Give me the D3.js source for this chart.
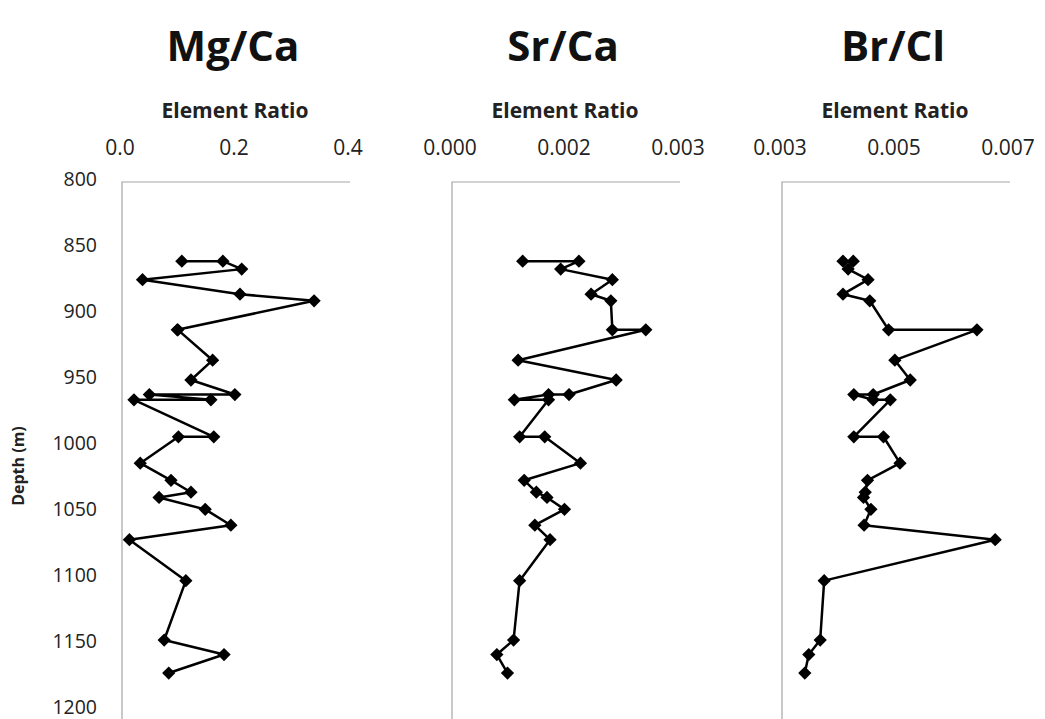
<!DOCTYPE html>
<html>
<head>
<meta charset="utf-8">
<script src="https://cdn.jsdelivr.net/npm/d3@7"></script>
<style>
	body { margin: 0; background: #fff; }
	svg { display: block; font-family: "Open Sans", "Liberation Sans", sans-serif; }
</style>
</head>
<body>
<script>

// sample depths (m), in drilling order
const depths = [860, 860, 866, 874, 885, 890, 912, 912, 935, 950, 961, 961, 965, 965, 993, 993,
	1013, 1026, 1035, 1039, 1048, 1060, 1071, 1102, 1147, 1158, 1172];

const mgCa = [0.105, 0.177, 0.210, 0.036, 0.207, 0.337, 0.097, 0.098, 0.159, 0.121, 0.198, 0.048, 0.156, 0.021, 0.161, 0.099,
	0.032, 0.086, 0.121, 0.065, 0.146, 0.191, 0.013, 0.112, 0.074, 0.179, 0.082];

const srCa = [0.00093, 0.00167, 0.00143, 0.00211, 0.00183, 0.00209, 0.00211, 0.00255, 0.00087, 0.00216, 0.00154, 0.00127, 0.00082, 0.00127, 0.00089, 0.00122,
	0.00169, 0.00095, 0.00111, 0.00125, 0.00148, 0.00109, 0.00129, 0.00089, 0.00081, 0.00059, 0.00073];

const brCl = [0.00407, 0.00425, 0.00416, 0.00451, 0.00407, 0.00454, 0.00487, 0.00642, 0.00498, 0.00525, 0.00460, 0.00426, 0.00460, 0.00490, 0.00426, 0.00478,
	0.00507, 0.00450, 0.00446, 0.00443, 0.00456, 0.00444, 0.00674, 0.00374, 0.00367, 0.00347, 0.00340];

const titles = ["Mg/Ca", "Sr/Ca", "Br/Cl"];
const xDomains = [[0, 0.4], [0, 0.003], [0.003, 0.007]];
const xTicks = [[0, 0.2, 0.4], [0, 0.0015, 0.003], [0.003, 0.005, 0.007]];
const xTickLabels = [["0.0", "0.2", "0.4"], ["0.000", "0.002", "0.003"], ["0.003", "0.005", "0.007"]];
const depthTicks = [800, 850, 900, 950, 1000, 1050, 1100, 1150, 1200];

const W = 1045, H = 719;
const PLOT_TOP = 182, PLOT_BOTTOM = 710;
const PANEL_LEFT = [122, 452, 782], PANEL_W = 228;

const svg = d3.select('body').append('svg')
	.attr('width', W)
	.attr('height', H);

const y = d3.scaleLinear().domain([800, 1200]).range([PLOT_TOP, PLOT_BOTTOM]);

/* depth axis labels (only on the left) */
svg.append('g')
	.selectAll('text')
	.data(depthTicks)
	.enter().append('text')
	.attr('x', 97)
	.attr('y', d => y(d))
	.attr('dy', '0.2em')
	.attr('text-anchor', 'end')
	.style('font-size', '19.5px')
	.style('fill', '#222')
	.text(d => d);

svg.append('text')
	.attr('transform', `translate(24, ${(PLOT_TOP + PLOT_BOTTOM) / 2 + 20}) rotate(-90)`)
	.attr('text-anchor', 'middle')
	.style('font-size', '16px')
	.style('font-weight', 'bold')
	.style('fill', '#222')
	.text('Depth (m)');

const seriesList = [mgCa, srCa, brCl];
const diamond = d3.symbol(d3.symbolSquare, 88);

seriesList.forEach((values, i) => {
	const x0 = PANEL_LEFT[i];
	const x = d3.scaleLinear().domain(xDomains[i]).range([x0, x0 + PANEL_W]);
	const g = svg.append('g');
	const mid = x0 + PANEL_W / 2;

	// title
	g.append('text')
		.attr('x', mid - 3)
		.attr('y', 61)
		.attr('text-anchor', 'middle')
		.style('font-size', '42px')
		.style('font-weight', 'bold')
		.style('fill', '#111')
		.text(titles[i]);

	g.append('text')
		.attr('x', mid - 1)
		.attr('y', 118)
		.attr('text-anchor', 'middle')
		.style('font-size', '21px')
		.style('font-weight', 'bold')
		.style('fill', '#222')
		.text('Element Ratio');

	// tick labels on top
	g.selectAll('.xtick')
		.data(xTicks[i])
		.enter().append('text')
		.attr('class', 'xtick')
		.attr('x', (d) => x(d) - 2)
		.attr('y', 155)
		.attr('text-anchor', 'middle')
		.style('font-size', '21px')
		.style('fill', '#222')
		.text((d, j) => xTickLabels[i][j]);

	// axis lines: top and left
	g.append('path')
		.attr('d', `M${x0 + PANEL_W},${PLOT_TOP}H${x0}V${H}`)
		.attr('fill', 'none')
		.attr('stroke', '#a6a6a6')
		.attr('stroke-width', 1.2);

	const pts = depths.map((d, k) => [x(values[k]), y(d)]);

	g.append('path')
		.attr('d', d3.line()(pts))
		.attr('fill', 'none')
		.attr('stroke', '#000')
		.attr('stroke-width', 2.5)
		.attr('stroke-linejoin', 'round');

	g.selectAll('.pt')
		.data(pts)
		.enter().append('path')
		.attr('class', 'pt')
		.attr('d', diamond)
		.attr('transform', d => `translate(${d[0]},${d[1]}) rotate(45)`)
		.attr('fill', '#000');
});

</script>
</body>
</html>
